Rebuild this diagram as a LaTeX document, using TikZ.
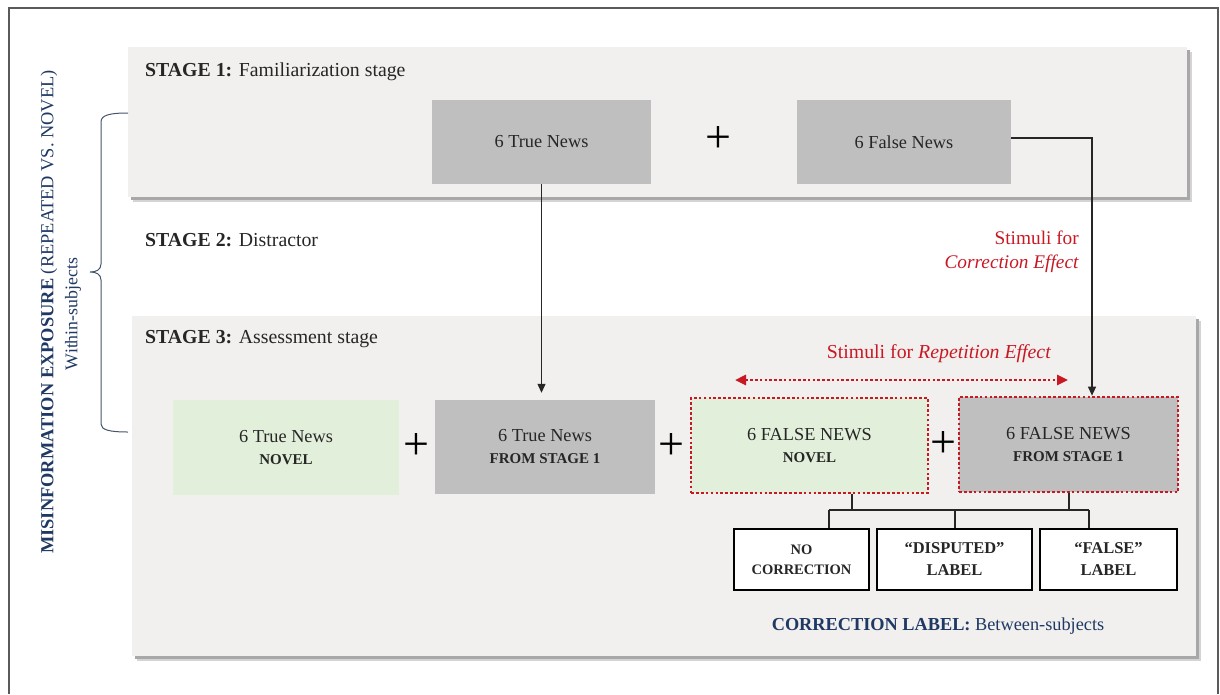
\documentclass[tikz,border=0pt]{standalone}
\usepackage{fontspec}
\setmainfont{Liberation Serif}
\usetikzlibrary{arrows.meta,calc}
\definecolor{stagebg}{RGB}{241,240,238}
\definecolor{newsgray}{RGB}{191,191,191}
\definecolor{newsgreen}{RGB}{226,239,218}
\definecolor{txt}{RGB}{38,38,38}
\definecolor{navy}{RGB}{31,56,100}
\definecolor{bracec}{RGB}{68,84,106}
\definecolor{redc}{RGB}{200,24,36}
\definecolor{shadowa}{RGB}{168,168,168}
\definecolor{shadowb}{RGB}{212,212,212}
\definecolor{framec}{RGB}{90,90,90}
\newcommand\fsz[2]{\fontsize{#1}{#2}\selectfont}
\begin{document}
\begin{tikzpicture}[x=1pt,y=-1pt,
  stagebox/.style={fill=stagebg, draw=none, inner sep=0, minimum width=#1},
  newsbox/.style={fill=newsgray, text=txt, align=center, inner sep=0, minimum height=84},
  greenbox/.style={fill=newsgreen, text=txt, align=center, inner sep=0, font=\fsz{18.3}{22}},
  grayboxb/.style={fill=newsgray, text=txt, align=center, inner sep=0, font=\fsz{18.3}{22}},
  redborder/.style={draw=redc, line width=2.7pt, dash pattern=on 2.7pt off 2.2pt},
  labelbox/.style={draw=black, line width=1.8pt, fill=white, text=txt, align=center, inner sep=0, minimum height=61},
  conn/.style={draw=txt, line width=1.1pt},
  arr/.style={conn, -{Triangle[length=9pt,width=8pt]}},
  plussign/.style={font=\fsz{46}{46}, text=black, inner sep=0},
  titletext/.style={anchor=base west, text=txt, font=\fsz{19.8}{23}, inner sep=0},
]
\useasboundingbox (0,0) rectangle (1220,694);
% outer frame
\draw[framec, line width=1.6pt] (9,694) -- (9,8) -- (1218,8) -- (1218,694);

% stage 1 box with shadow
\fill[shadowb] (133,52) rectangle (1192,202);
\fill[shadowa] (131,50) rectangle (1190,200);
\node[stagebox=1059, minimum height=150] (stage1) at (657.5,122) {};
% stage 3 box with shadow
\fill[shadowb] (137,321) rectangle (1201,661);
\fill[shadowa] (135,319) rectangle (1199,659);
\node[stagebox=1064, minimum height=340] (stage3) at (664,486) {};

% titles
\node[titletext] (t1title) at (145,76) {\textbf{STAGE 1:} Familiarization stage};
\node[titletext] (t2title) at (145,246) {\textbf{STAGE 2:} Distractor};
\node[titletext] (t3title) at (145,343) {\textbf{STAGE 3:} Assessment stage};

% stage 1 news
\node[newsbox, minimum width=219, font=\fsz{18.3}{22}] (t1) at (541.5,142) {6 True News};
\node[plussign] (p0) at (718,140) {+};
\node[newsbox, minimum width=214, font=\fsz{18.3}{22}] (f1) at (904,142) {6 False News};

% stage 3 news
\node[greenbox, minimum width=226, minimum height=95] (tn) at (286,447.5)
  {6 True News\\{\fsz{15}{22}\bfseries NOVEL}};
\node[plussign] (p1) at (416,446) {+};
\node[grayboxb, minimum width=220, minimum height=94] (ts) at (545,447)
  {6 True News\\{\fsz{15}{22}\bfseries FROM STAGE 1}};
\node[plussign] (p2) at (671,446) {+};
\node[greenbox, redborder, minimum width=237, minimum height=95] (fn) at (809.5,445.5)
  {6 FALSE NEWS\\{\fsz{15}{22}\bfseries NOVEL}};
\node[plussign] (p3) at (943,444) {+};
\node[grayboxb, redborder, minimum width=219, minimum height=95] (fs) at (1068.5,444.5)
  {6 FALSE NEWS\\{\fsz{15}{22}\bfseries FROM STAGE 1}};

% correction label boxes
\node[labelbox, minimum width=135, font=\fsz{14.5}{20}\bfseries] (nc) at (801.5,559.5) {NO\\CORRECTION};
\node[labelbox, minimum width=155, font=\fsz{16.5}{22}\bfseries] (dl) at (954.5,559.5) {``DISPUTED''\\LABEL};
\node[labelbox, minimum width=137, font=\fsz{16.5}{22}\bfseries] (fl) at (1108.5,559.5) {``FALSE''\\LABEL};

% tree connectors
\coordinate (ja) at (852,510);
\coordinate (jb) at (1069,510);
\coordinate (ka) at (829,510);
\coordinate (kb) at (955,510);
\coordinate (kc) at (1089,510);
\draw[conn] (fn.south -| ja) -- (ja);
\draw[conn] (fs.south -| jb) -- (jb);
\draw[conn] (ka) -- (kc);
\draw[conn] (ka) -- (ka |- nc.north);
\draw[conn] (kb) -- (kb |- dl.north);
\draw[conn] (kc) -- (kc |- fl.north);

% arrows from stage 1
\draw[arr, shorten >=7pt] (t1.south) -- (t1.south |- ts.north);
\coordinate (cx) at (1092,0);
\draw[arr] ([yshift=4pt]f1.east) -| (cx |- fs.north);

% red labels
\node[anchor=east, align=right, text=redc, font=\fsz{19.3}{23.5}, inner sep=0] (corr) at (1079,252)
  {Stimuli for\\\textit{Correction Effect}};
\node[text=redc, font=\fsz{19.8}{23}, inner sep=0] (rep) at (939,354)
  {Stimuli for \textit{Repetition Effect}};
\coordinate (ra) at (735,380);
\coordinate (rb) at (1068,380);
\draw[redc, line width=2.6pt, dash pattern=on 2.6pt off 2.2pt,
  {Triangle[length=11pt,width=10pt]}-{Triangle[length=11pt,width=10pt]}] (ra) -- (rb);

% correction label caption
\node[text=navy, font=\fsz{18.3}{22}, inner sep=0] (cl) at (938,626)
  {\textbf{CORRECTION LABEL:} Between-subjects};

% left brace and vertical labels
\draw[bracec, line width=1pt] (128,113) .. controls (110,113) and (101,115) .. (101,122)
  -- (101,264) .. controls (101,270) and (96,272) .. (90,272)
  .. controls (96,272) and (101,274) .. (101,280)
  -- (101,424) .. controls (101,430) and (110,432) .. (128,432);
\node[rotate=90, text=navy, font=\fsz{18.4}{22}, inner sep=0] (mis) at (49,312)
  {\textbf{MISINFORMATION EXPOSURE} (REPEATED VS. NOVEL)};
\node[rotate=90, text=navy, font=\fsz{17.8}{21}, inner sep=0] (within) at (73,314)
  {Within-subjects};
\end{tikzpicture}
\end{document}
